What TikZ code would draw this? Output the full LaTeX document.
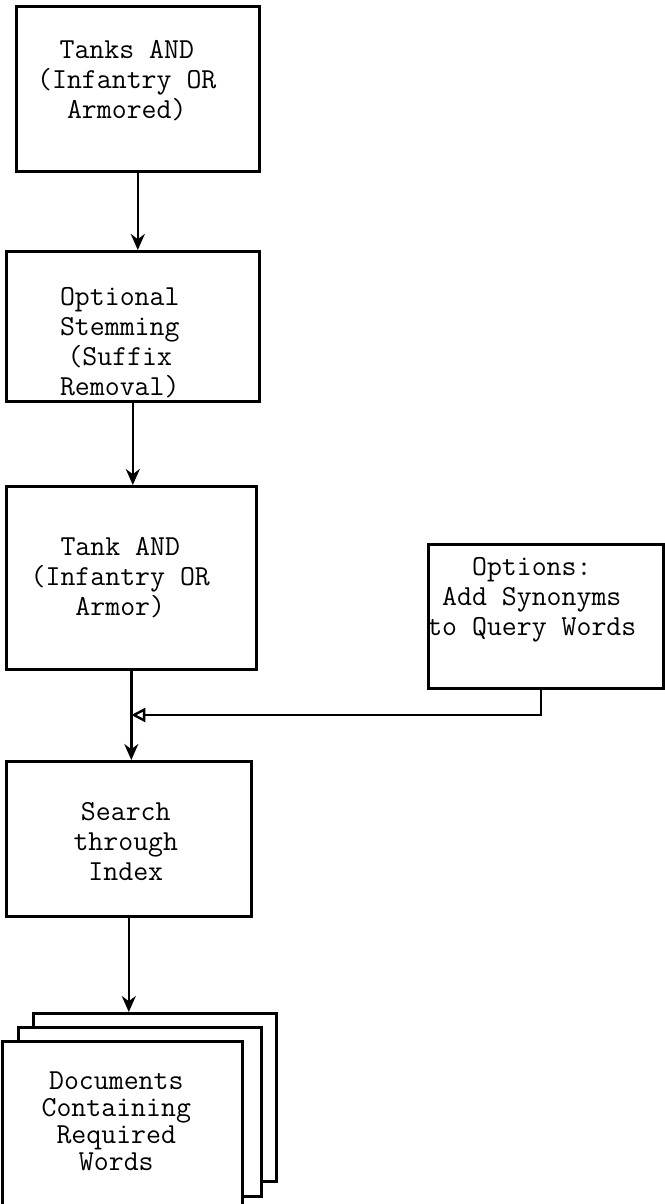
\documentclass[tikz,border=0pt]{standalone}
\usepackage{fontspec}
\usetikzlibrary{arrows.meta}

\begin{document}
\begin{tikzpicture}[x=1pt, y=-1pt,
    box/.style={rectangle, draw, line width=2.6pt, anchor=north west, fill=white},
    txt/.style={font=\ttfamily\fontsize{29}{30}\selectfont, align=center},
    flow/.style={line width=2.4pt, -{Stealth[length=16pt,width=14pt]}}]
  \useasboundingbox (0,0) rectangle (664,1204);

  % query boxes down the left side
  \node[box, minimum width=243pt, minimum height=165pt] (tanks) at (15,5) {};
  \node[txt] (tankstxt) at ([xshift=-11pt,yshift=8pt]tanks.center) {Tanks AND\\(Infantry OR\\Armored)};

  \node[box, minimum width=253pt, minimum height=150pt] (stem) at (5,250) {};
  \node[txt] (stemtxt) at ([xshift=-13pt,yshift=-16pt]stem.center) {Optional\\Stemming\\(Suffix\\Removal)};

  \node[box, minimum width=250pt, minimum height=183pt] (tank) at (5,485) {};
  \node[txt] (tanktxt) at ([xshift=-11pt]tank.center) {Tank AND\\(Infantry OR\\Armor)};

  \node[box, minimum width=235pt, minimum height=144pt] (opts) at (427,543) {};
  \node[txt] (optstxt) at ([xshift=-14pt,yshift=17pt]opts.center) {Options:\\Add Synonyms\\to Query Words};

  \node[box, minimum width=245pt, minimum height=155pt] (search) at (5,760) {};
  \node[txt] (searchtxt) at ([xshift=-3pt,yshift=-3pt]search.center) {Search\\through\\Index};

  % stack of result documents, back sheet first
  \node[box, minimum width=243pt, minimum height=168pt] (sheetb) at (32,1012) {};
  \node[box, minimum width=243pt, minimum height=169pt] (sheetm) at (17,1026) {};
  \node[box, minimum width=240pt, minimum height=180pt] (sheetf) at (1,1040) {};
  \node[txt, font=\ttfamily\fontsize{29}{27}\selectfont] (docstxt) at ([xshift=-6pt,yshift=10pt]sheetf.center) {Documents\\Containing\\Required\\Words};

  % main flow
  \draw[flow] (tanks.south) -- (tanks.south |- stem.north);
  \draw[flow] (stem.south) -- (stem.south |- tank.north);
  \draw[flow] (tank.south) -- (tank.south |- search.north);
  \draw[flow] (search.south) -- (search.south |- sheetb.north);

  % synonyms feed into the search line
  \coordinate (lvl) at (0,715);
  \coordinate (join) at (tank.south |- lvl);
  \draw[line width=2.4pt, -{Triangle[open,length=14pt,width=14pt]}] ([xshift=-5pt]opts.south) |- (join);
\end{tikzpicture}
\end{document}
